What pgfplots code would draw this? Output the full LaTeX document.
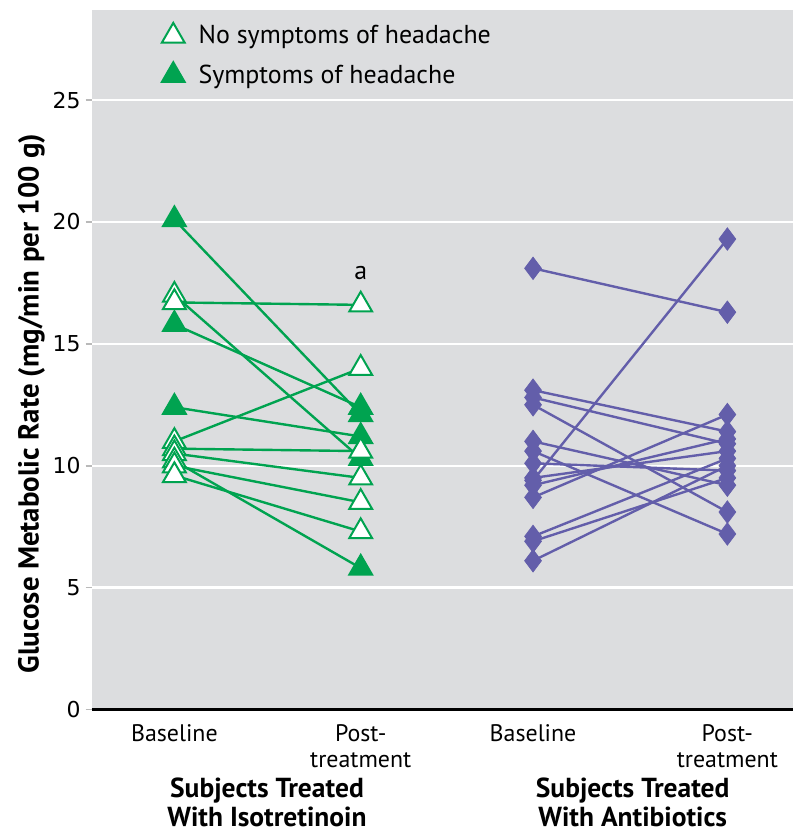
\documentclass[border=0pt]{standalone}
\usepackage{fontspec}
\setmainfont{PT Sans}
\newfontfamily\tickfont{DejaVu Sans}
\usepackage{pgfplots}
\pgfplotsset{compat=1.18}
\definecolor{bggray}{RGB}{220,221,223}
\definecolor{tgreen}{RGB}{0,163,80}
\definecolor{dpurple}{RGB}{99,94,170}
\begin{document}
\begin{tikzpicture}
\begin{axis}[
  name=ax,
  scale only axis,
  width=352pt, height=351pt,
  xmin=0.556, xmax=4.321,
  ymin=0, ymax=28.7,
  axis background/.style={fill=bggray},
  axis x line*=bottom,
  axis y line*=left,
  x axis line style={black, line width=1.4pt},
  y axis line style={draw=none},
  ytick={0,5,10,15,20,25},
  ymajorgrids,
  major grid style={white, line width=1.2pt},
  ytick style={draw=gray!55, line width=0.8pt},
  major tick length=3pt,
  tick align=outside,
  xtick={1,2,2.925,3.968},
  xticklabels={Baseline,{Post-\\treatment},Baseline,{Post-\\treatment}},
  xtick style={draw=none},
  xticklabel style={align=center, font=\fontsize{12}{13}\selectfont, anchor=north, yshift=-1pt},
  yticklabel style={font=\tickfont\fontsize{11}{13}\selectfont, xshift=1pt},
  /pgf/number format/assume math mode=true,
  ylabel={Glucose Metabolic Rate (mg/min per 100 g)},
  ylabel style={font=\bfseries\fontsize{14.5}{16}\selectfont, yshift=-3pt, xshift=-22pt},
  clip=false,
  legend style={draw=none, fill=none, at={(0.091,0.99)}, anchor=north west,
    font=\fontsize{13}{16}\selectfont, row sep=5pt,
    /tikz/every odd column/.append style={column sep=5pt}},
  legend cell align=left,
]
% legend
\addlegendimage{only marks, mark=triangle*, mark size=6.6pt, mark options={fill=white, draw=tgreen, line width=1pt}}
\addlegendentry{No symptoms of headache}
\addlegendimage{only marks, mark=triangle*, mark size=6.6pt, mark options={fill=tgreen, draw=tgreen, line width=1pt}}
\addlegendentry{Symptoms of headache}

% Isotretinoin lines
\pgfplotsset{gline/.style={tgreen, line width=1.2pt, no marks, forget plot}}
\addplot[gline] coordinates {(1,20.1) (2,12.1)};
\addplot[gline] coordinates {(1,16.7) (2,16.6)};
\addplot[gline] coordinates {(1,17.0) (2,10.3)};
\addplot[gline] coordinates {(1,15.8) (2,12.4)};
\addplot[gline] coordinates {(1,12.4) (2,11.2)};
\addplot[gline] coordinates {(1,11.0) (2,14.0)};
\addplot[gline] coordinates {(1,10.7) (2,10.6)};
\addplot[gline] coordinates {(1,10.5) (2,9.5)};
\addplot[gline] coordinates {(1,10.0) (2,8.5)};
\addplot[gline] coordinates {(1,10.2) (2,5.8)};
\addplot[gline] coordinates {(1,9.6) (2,7.3)};

% Isotretinoin markers: filled
\addplot[only marks, forget plot, mark=triangle*, mark size=6.6pt, mark options={fill=tgreen, draw=tgreen, line width=1pt}]
  coordinates {(1,20.1) (1,15.8) (1,12.4) (2,12.4) (2,12.1) (2,11.2) (2,10.3) (2,5.8)};
% Isotretinoin markers: open
\addplot[only marks, forget plot, mark=triangle*, mark size=6.6pt, mark options={fill=white, draw=tgreen, line width=1pt}]
  coordinates {(1,17.0) (1,16.7) (1,11.0) (1,10.7) (1,10.5) (1,10.2) (1,10.0) (1,9.6)
               (2,16.6) (2,14.0) (2,10.6) (2,9.5) (2,8.5) (2,7.3)};

% Antibiotics lines
\pgfplotsset{pline/.style={dpurple, line width=1.2pt, no marks, forget plot}}
\addplot[pline] coordinates {(2.925,18.1) (3.968,16.3)};
\addplot[pline] coordinates {(2.925,13.1) (3.968,11.4)};
\addplot[pline] coordinates {(2.925,12.8) (3.968,10.9)};
\addplot[pline] coordinates {(2.925,12.5) (3.968,8.1)};
\addplot[pline] coordinates {(2.925,11.0) (3.968,9.2)};
\addplot[pline] coordinates {(2.925,10.6) (3.968,7.2)};
\addplot[pline] coordinates {(2.925,10.1) (3.968,9.8)};
\addplot[pline] coordinates {(2.925,9.5) (3.968,10.6)};
\addplot[pline] coordinates {(2.925,9.4) (3.968,19.3)};
\addplot[pline] coordinates {(2.925,9.2) (3.968,11.1)};
\addplot[pline] coordinates {(2.925,8.7) (3.968,12.1)};
\addplot[pline] coordinates {(2.925,7.1) (3.968,10.3)};
\addplot[pline] coordinates {(2.925,6.9) (3.968,9.5)};
\addplot[pline] coordinates {(2.925,6.1) (3.968,10.0)};
\addplot[only marks, forget plot, mark=diamond*, mark size=5.6pt, mark options={fill=dpurple, draw=dpurple}]
  coordinates {(2.925,18.1) (2.925,13.1) (2.925,12.8) (2.925,12.5) (2.925,11.0) (2.925,10.6)
               (2.925,10.1) (2.925,9.5) (2.925,9.4) (2.925,9.2) (2.925,8.7) (2.925,7.1)
               (2.925,6.9) (2.925,6.1)
               (3.968,16.3) (3.968,11.4) (3.968,10.9) (3.968,8.1) (3.968,9.2) (3.968,7.2)
               (3.968,9.8) (3.968,10.6) (3.968,19.3) (3.968,11.1) (3.968,12.1) (3.968,10.3)
               (3.968,9.5) (3.968,10.0)};

\node[font=\fontsize{13}{14}\selectfont] at (axis cs:2,17.9) {a};
\node[anchor=north, align=center, font=\bfseries\fontsize{13.8}{14.2}\selectfont]
  at ([yshift=-31pt]axis cs:1.497,0) {Subjects Treated\\With Isotretinoin};
\node[anchor=north, align=center, font=\bfseries\fontsize{13.8}{14.2}\selectfont]
  at ([yshift=-31pt]axis cs:3.46,0) {Subjects Treated\\With Antibiotics};
\end{axis}
\pgfresetboundingbox
\useasboundingbox ([shift={(-46pt,-62pt)}]ax.south west) rectangle ([shift={(0pt,5pt)}]ax.north east);
\end{tikzpicture}
\end{document}
